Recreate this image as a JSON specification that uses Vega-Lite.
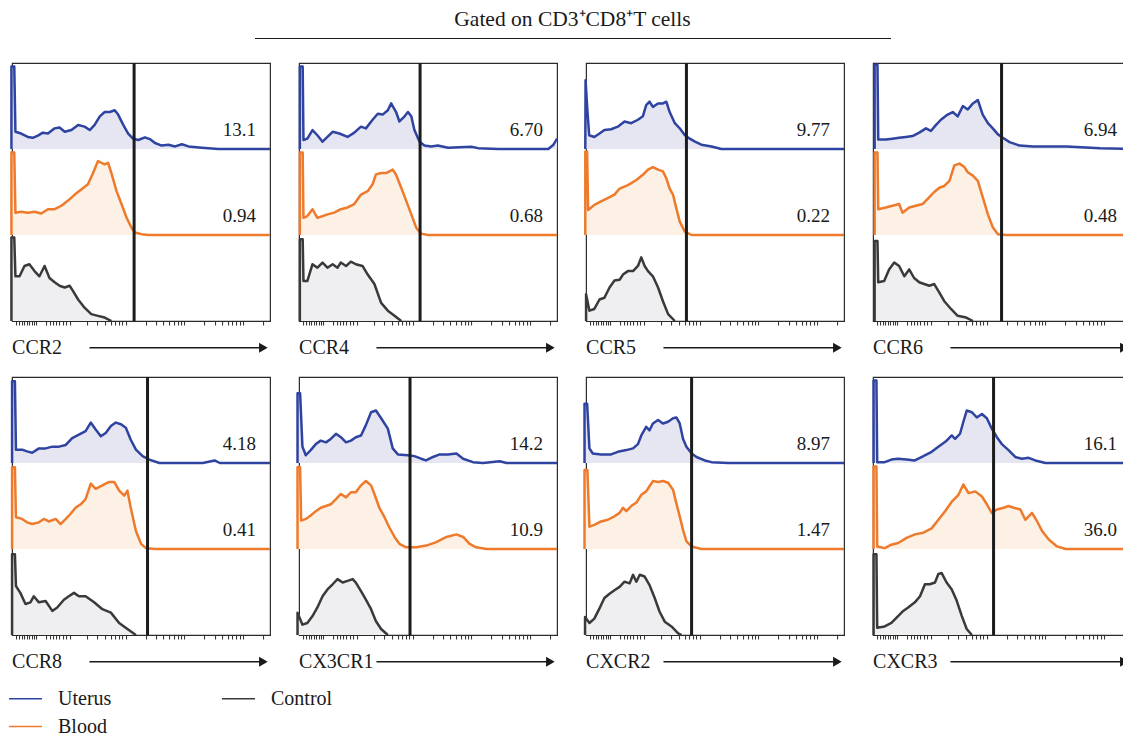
{
  "$schema": "https://vega.github.io/schema/vega-lite/v6.json",
  "padding": {"left": 8, "top": 8, "right": 0, "bottom": 0},
  "background": "white",
  "vconcat": [
    {
      "width": 636,
      "height": 30,
      "view": {"stroke": null},
      "data": {"values": [{"t": "Gated on CD3⁺CD8⁺T cells"}]},
      "mark": {"type": "text", "font": "Liberation Serif", "fontSize": 21.5, "color": "#1a1a1a", "baseline": "middle"},
      "encoding": {
        "text": {"field": "t"},
        "x": {"datum": 0.5, "type": "quantitative", "scale": {"domain": [0, 1]}, "axis": {"orient": "bottom", "domain": true, "domainColor": "#1a1a1a", "domainWidth": 1.2, "ticks": false, "labels": false, "grid": false, "title": null}},
        "y": {"datum": 0.6, "type": "quantitative", "scale": {"domain": [0, 1]}, "axis": null}
      }
    },
    {
      "data": {"values": [
        {"p":"CCR2","gate":47.3,"ut":"13.1","bl":"0.94"},
        {"p":"CCR4","gate":46.9,"ut":"6.70","bl":"0.68"},
        {"p":"CCR5","gate":38.9,"ut":"9.77","bl":"0.22"},
        {"p":"CCR6","gate":49.8,"ut":"6.94","bl":"0.48"},
        {"p":"CCR8","gate":52.5,"ut":"4.18","bl":"0.41"},
        {"p":"CX3CR1","gate":43.0,"ut":"14.2","bl":"10.9"},
        {"p":"CXCR2","gate":40.9,"ut":"8.97","bl":"1.47"},
        {"p":"CXCR3","gate":46.7,"ut":"16.1","bl":"36.0"},

        {"p":"CCR2","s":"Uterus","x":-0.25,"y":0},{"p":"CCR2","s":"Uterus","x":-0.25,"y":0.96},{"p":"CCR2","s":"Uterus","x":0.85,"y":0.96},{"p":"CCR2","s":"Uterus","x":1.3,"y":0.2},{"p":"CCR2","s":"Uterus","x":3.5,"y":0.18},{"p":"CCR2","s":"Uterus","x":6.1,"y":0.14},{"p":"CCR2","s":"Uterus","x":8,"y":0.13},{"p":"CCR2","s":"Uterus","x":10,"y":0.155},{"p":"CCR2","s":"Uterus","x":11.9,"y":0.19},{"p":"CCR2","s":"Uterus","x":13.9,"y":0.18},{"p":"CCR2","s":"Uterus","x":16.5,"y":0.24},{"p":"CCR2","s":"Uterus","x":18.4,"y":0.25},{"p":"CCR2","s":"Uterus","x":20.4,"y":0.2},{"p":"CCR2","s":"Uterus","x":23,"y":0.22},{"p":"CCR2","s":"Uterus","x":25.6,"y":0.28},{"p":"CCR2","s":"Uterus","x":28.1,"y":0.26},{"p":"CCR2","s":"Uterus","x":30.1,"y":0.22},{"p":"CCR2","s":"Uterus","x":32,"y":0.28},{"p":"CCR2","s":"Uterus","x":34,"y":0.38},{"p":"CCR2","s":"Uterus","x":35.9,"y":0.43},{"p":"CCR2","s":"Uterus","x":37.9,"y":0.43},{"p":"CCR2","s":"Uterus","x":39.8,"y":0.45},{"p":"CCR2","s":"Uterus","x":41.1,"y":0.4},{"p":"CCR2","s":"Uterus","x":43.1,"y":0.28},{"p":"CCR2","s":"Uterus","x":45,"y":0.18},{"p":"CCR2","s":"Uterus","x":46.9,"y":0.12},{"p":"CCR2","s":"Uterus","x":48.9,"y":0.105},{"p":"CCR2","s":"Uterus","x":51.5,"y":0.135},{"p":"CCR2","s":"Uterus","x":53.4,"y":0.115},{"p":"CCR2","s":"Uterus","x":55.4,"y":0.07},{"p":"CCR2","s":"Uterus","x":58,"y":0.04},{"p":"CCR2","s":"Uterus","x":60.6,"y":0.05},{"p":"CCR2","s":"Uterus","x":63.2,"y":0.03},{"p":"CCR2","s":"Uterus","x":65.8,"y":0.055},{"p":"CCR2","s":"Uterus","x":68.4,"y":0.03},{"p":"CCR2","s":"Uterus","x":73.5,"y":0.015},{"p":"CCR2","s":"Uterus","x":80,"y":0},{"p":"CCR2","s":"Uterus","x":100,"y":0},

        {"p":"CCR2","s":"Blood","x":-0.25,"y":0},{"p":"CCR2","s":"Blood","x":-0.25,"y":0.96},{"p":"CCR2","s":"Blood","x":0.85,"y":0.96},{"p":"CCR2","s":"Blood","x":1.3,"y":0.26},{"p":"CCR2","s":"Blood","x":3.5,"y":0.27},{"p":"CCR2","s":"Blood","x":6.1,"y":0.26},{"p":"CCR2","s":"Blood","x":8.7,"y":0.27},{"p":"CCR2","s":"Blood","x":11.3,"y":0.25},{"p":"CCR2","s":"Blood","x":13.9,"y":0.3},{"p":"CCR2","s":"Blood","x":16.5,"y":0.3},{"p":"CCR2","s":"Blood","x":19.1,"y":0.34},{"p":"CCR2","s":"Blood","x":21.7,"y":0.4},{"p":"CCR2","s":"Blood","x":24.3,"y":0.47},{"p":"CCR2","s":"Blood","x":26.8,"y":0.53},{"p":"CCR2","s":"Blood","x":29.4,"y":0.59},{"p":"CCR2","s":"Blood","x":31.4,"y":0.72},{"p":"CCR2","s":"Blood","x":33.3,"y":0.86},{"p":"CCR2","s":"Blood","x":34.6,"y":0.84},{"p":"CCR2","s":"Blood","x":35.9,"y":0.82},{"p":"CCR2","s":"Blood","x":37.2,"y":0.84},{"p":"CCR2","s":"Blood","x":38.5,"y":0.72},{"p":"CCR2","s":"Blood","x":40.5,"y":0.51},{"p":"CCR2","s":"Blood","x":42.4,"y":0.36},{"p":"CCR2","s":"Blood","x":44.4,"y":0.2},{"p":"CCR2","s":"Blood","x":46.3,"y":0.085},{"p":"CCR2","s":"Blood","x":47.6,"y":0.03},{"p":"CCR2","s":"Blood","x":50.2,"y":0.01},{"p":"CCR2","s":"Blood","x":52.8,"y":0},{"p":"CCR2","s":"Blood","x":100,"y":0},

        {"p":"CCR2","s":"Control","x":-0.25,"y":0},{"p":"CCR2","s":"Control","x":-0.25,"y":0.97},{"p":"CCR2","s":"Control","x":0.85,"y":0.97},{"p":"CCR2","s":"Control","x":1.3,"y":0.52},{"p":"CCR2","s":"Control","x":2.9,"y":0.52},{"p":"CCR2","s":"Control","x":4.8,"y":0.64},{"p":"CCR2","s":"Control","x":6.7,"y":0.66},{"p":"CCR2","s":"Control","x":8.7,"y":0.58},{"p":"CCR2","s":"Control","x":10.6,"y":0.52},{"p":"CCR2","s":"Control","x":12.6,"y":0.64},{"p":"CCR2","s":"Control","x":14.5,"y":0.5},{"p":"CCR2","s":"Control","x":16.5,"y":0.45},{"p":"CCR2","s":"Control","x":18.4,"y":0.41},{"p":"CCR2","s":"Control","x":20.4,"y":0.39},{"p":"CCR2","s":"Control","x":22.3,"y":0.41},{"p":"CCR2","s":"Control","x":23.6,"y":0.35},{"p":"CCR2","s":"Control","x":25.6,"y":0.25},{"p":"CCR2","s":"Control","x":28.1,"y":0.155},{"p":"CCR2","s":"Control","x":30.7,"y":0.08},{"p":"CCR2","s":"Control","x":33.3,"y":0.06},{"p":"CCR2","s":"Control","x":35.9,"y":0.04},{"p":"CCR2","s":"Control","x":38.5,"y":0},

        {"p":"CCR4","s":"Uterus","x":0.3,"y":0},{"p":"CCR4","s":"Uterus","x":0.3,"y":0.96},{"p":"CCR4","s":"Uterus","x":1.4,"y":0.96},{"p":"CCR4","s":"Uterus","x":1.7,"y":0.105},{"p":"CCR4","s":"Uterus","x":3.2,"y":0.12},{"p":"CCR4","s":"Uterus","x":5.2,"y":0.22},{"p":"CCR4","s":"Uterus","x":7.1,"y":0.16},{"p":"CCR4","s":"Uterus","x":9.1,"y":0.085},{"p":"CCR4","s":"Uterus","x":11,"y":0.14},{"p":"CCR4","s":"Uterus","x":13,"y":0.2},{"p":"CCR4","s":"Uterus","x":15.6,"y":0.18},{"p":"CCR4","s":"Uterus","x":18.8,"y":0.14},{"p":"CCR4","s":"Uterus","x":21.4,"y":0.19},{"p":"CCR4","s":"Uterus","x":24,"y":0.26},{"p":"CCR4","s":"Uterus","x":25.9,"y":0.24},{"p":"CCR4","s":"Uterus","x":28.5,"y":0.34},{"p":"CCR4","s":"Uterus","x":30.5,"y":0.41},{"p":"CCR4","s":"Uterus","x":32.4,"y":0.4},{"p":"CCR4","s":"Uterus","x":34.4,"y":0.45},{"p":"CCR4","s":"Uterus","x":35.7,"y":0.53},{"p":"CCR4","s":"Uterus","x":37.6,"y":0.43},{"p":"CCR4","s":"Uterus","x":38.9,"y":0.32},{"p":"CCR4","s":"Uterus","x":40.9,"y":0.38},{"p":"CCR4","s":"Uterus","x":42.2,"y":0.43},{"p":"CCR4","s":"Uterus","x":43.5,"y":0.38},{"p":"CCR4","s":"Uterus","x":44.7,"y":0.22},{"p":"CCR4","s":"Uterus","x":46.7,"y":0.085},{"p":"CCR4","s":"Uterus","x":48.6,"y":0.04},{"p":"CCR4","s":"Uterus","x":51.2,"y":0.03},{"p":"CCR4","s":"Uterus","x":53.8,"y":0.04},{"p":"CCR4","s":"Uterus","x":57.7,"y":0.015},{"p":"CCR4","s":"Uterus","x":66.8,"y":0.025},{"p":"CCR4","s":"Uterus","x":69.4,"y":0.01},{"p":"CCR4","s":"Uterus","x":77.2,"y":0},{"p":"CCR4","s":"Uterus","x":96.6,"y":0},{"p":"CCR4","s":"Uterus","x":98.6,"y":0.05},{"p":"CCR4","s":"Uterus","x":100,"y":0.12},

        {"p":"CCR4","s":"Blood","x":0.3,"y":0},{"p":"CCR4","s":"Blood","x":0.3,"y":0.96},{"p":"CCR4","s":"Blood","x":1.4,"y":0.96},{"p":"CCR4","s":"Blood","x":1.7,"y":0.2},{"p":"CCR4","s":"Blood","x":3.2,"y":0.22},{"p":"CCR4","s":"Blood","x":5.2,"y":0.3},{"p":"CCR4","s":"Blood","x":7.1,"y":0.2},{"p":"CCR4","s":"Blood","x":9.1,"y":0.22},{"p":"CCR4","s":"Blood","x":11,"y":0.24},{"p":"CCR4","s":"Blood","x":13.6,"y":0.26},{"p":"CCR4","s":"Blood","x":16.2,"y":0.3},{"p":"CCR4","s":"Blood","x":18.8,"y":0.32},{"p":"CCR4","s":"Blood","x":21.4,"y":0.36},{"p":"CCR4","s":"Blood","x":24,"y":0.47},{"p":"CCR4","s":"Blood","x":26.6,"y":0.51},{"p":"CCR4","s":"Blood","x":28.5,"y":0.59},{"p":"CCR4","s":"Blood","x":29.8,"y":0.705},{"p":"CCR4","s":"Blood","x":31.8,"y":0.72},{"p":"CCR4","s":"Blood","x":33.7,"y":0.72},{"p":"CCR4","s":"Blood","x":35,"y":0.74},{"p":"CCR4","s":"Blood","x":36.3,"y":0.76},{"p":"CCR4","s":"Blood","x":37.6,"y":0.7},{"p":"CCR4","s":"Blood","x":39.6,"y":0.55},{"p":"CCR4","s":"Blood","x":41.5,"y":0.4},{"p":"CCR4","s":"Blood","x":43.5,"y":0.24},{"p":"CCR4","s":"Blood","x":45.4,"y":0.085},{"p":"CCR4","s":"Blood","x":47.3,"y":0.016},{"p":"CCR4","s":"Blood","x":49.9,"y":0},{"p":"CCR4","s":"Blood","x":100,"y":0},

        {"p":"CCR4","s":"Control","x":0.3,"y":0},{"p":"CCR4","s":"Control","x":0.3,"y":0.95},{"p":"CCR4","s":"Control","x":1.4,"y":0.95},{"p":"CCR4","s":"Control","x":1.7,"y":0.465},{"p":"CCR4","s":"Control","x":3.2,"y":0.465},{"p":"CCR4","s":"Control","x":5.2,"y":0.66},{"p":"CCR4","s":"Control","x":7.1,"y":0.62},{"p":"CCR4","s":"Control","x":9.1,"y":0.68},{"p":"CCR4","s":"Control","x":11,"y":0.62},{"p":"CCR4","s":"Control","x":13,"y":0.66},{"p":"CCR4","s":"Control","x":14.9,"y":0.62},{"p":"CCR4","s":"Control","x":16.2,"y":0.68},{"p":"CCR4","s":"Control","x":18.2,"y":0.64},{"p":"CCR4","s":"Control","x":20.1,"y":0.69},{"p":"CCR4","s":"Control","x":22,"y":0.66},{"p":"CCR4","s":"Control","x":24.6,"y":0.64},{"p":"CCR4","s":"Control","x":26.6,"y":0.54},{"p":"CCR4","s":"Control","x":29.2,"y":0.43},{"p":"CCR4","s":"Control","x":31.8,"y":0.21},{"p":"CCR4","s":"Control","x":34.4,"y":0.12},{"p":"CCR4","s":"Control","x":37,"y":0.06},{"p":"CCR4","s":"Control","x":39.6,"y":0},

        {"p":"CCR5","s":"Uterus","x":-0.3,"y":0},{"p":"CCR5","s":"Uterus","x":-0.2,"y":0.8},{"p":"CCR5","s":"Uterus","x":0.4,"y":0.5},{"p":"CCR5","s":"Uterus","x":1.2,"y":0.16},{"p":"CCR5","s":"Uterus","x":3.2,"y":0.14},{"p":"CCR5","s":"Uterus","x":5.2,"y":0.18},{"p":"CCR5","s":"Uterus","x":7.1,"y":0.22},{"p":"CCR5","s":"Uterus","x":9.7,"y":0.23},{"p":"CCR5","s":"Uterus","x":12.3,"y":0.26},{"p":"CCR5","s":"Uterus","x":14.9,"y":0.32},{"p":"CCR5","s":"Uterus","x":17.5,"y":0.3},{"p":"CCR5","s":"Uterus","x":20.1,"y":0.34},{"p":"CCR5","s":"Uterus","x":22,"y":0.38},{"p":"CCR5","s":"Uterus","x":23.3,"y":0.51},{"p":"CCR5","s":"Uterus","x":24.6,"y":0.55},{"p":"CCR5","s":"Uterus","x":25.9,"y":0.49},{"p":"CCR5","s":"Uterus","x":27.9,"y":0.53},{"p":"CCR5","s":"Uterus","x":29.8,"y":0.53},{"p":"CCR5","s":"Uterus","x":31.1,"y":0.55},{"p":"CCR5","s":"Uterus","x":32.4,"y":0.43},{"p":"CCR5","s":"Uterus","x":34.4,"y":0.3},{"p":"CCR5","s":"Uterus","x":36.3,"y":0.24},{"p":"CCR5","s":"Uterus","x":38.3,"y":0.16},{"p":"CCR5","s":"Uterus","x":40.2,"y":0.12},{"p":"CCR5","s":"Uterus","x":42.2,"y":0.085},{"p":"CCR5","s":"Uterus","x":44.7,"y":0.05},{"p":"CCR5","s":"Uterus","x":48.6,"y":0.03},{"p":"CCR5","s":"Uterus","x":52.5,"y":0},{"p":"CCR5","s":"Uterus","x":100,"y":0},

        {"p":"CCR5","s":"Blood","x":-0.3,"y":0},{"p":"CCR5","s":"Blood","x":-0.3,"y":0.97},{"p":"CCR5","s":"Blood","x":0.4,"y":0.97},{"p":"CCR5","s":"Blood","x":0.8,"y":0.29},{"p":"CCR5","s":"Blood","x":3.2,"y":0.35},{"p":"CCR5","s":"Blood","x":5.8,"y":0.39},{"p":"CCR5","s":"Blood","x":8.4,"y":0.43},{"p":"CCR5","s":"Blood","x":11,"y":0.47},{"p":"CCR5","s":"Blood","x":13,"y":0.54},{"p":"CCR5","s":"Blood","x":16.2,"y":0.58},{"p":"CCR5","s":"Blood","x":19.5,"y":0.64},{"p":"CCR5","s":"Blood","x":22,"y":0.7},{"p":"CCR5","s":"Blood","x":24,"y":0.76},{"p":"CCR5","s":"Blood","x":25.9,"y":0.79},{"p":"CCR5","s":"Blood","x":27.9,"y":0.76},{"p":"CCR5","s":"Blood","x":29.8,"y":0.74},{"p":"CCR5","s":"Blood","x":31.1,"y":0.66},{"p":"CCR5","s":"Blood","x":32.4,"y":0.54},{"p":"CCR5","s":"Blood","x":33.7,"y":0.47},{"p":"CCR5","s":"Blood","x":35,"y":0.31},{"p":"CCR5","s":"Blood","x":36.3,"y":0.155},{"p":"CCR5","s":"Blood","x":38.3,"y":0.04},{"p":"CCR5","s":"Blood","x":40.9,"y":0},{"p":"CCR5","s":"Blood","x":100,"y":0},

        {"p":"CCR5","s":"Control","x":0,"y":0},{"p":"CCR5","s":"Control","x":0,"y":0.31},{"p":"CCR5","s":"Control","x":1.3,"y":0.12},{"p":"CCR5","s":"Control","x":3.2,"y":0.14},{"p":"CCR5","s":"Control","x":5.2,"y":0.25},{"p":"CCR5","s":"Control","x":7.1,"y":0.27},{"p":"CCR5","s":"Control","x":9.1,"y":0.39},{"p":"CCR5","s":"Control","x":11,"y":0.47},{"p":"CCR5","s":"Control","x":13,"y":0.48},{"p":"CCR5","s":"Control","x":14.3,"y":0.54},{"p":"CCR5","s":"Control","x":16.2,"y":0.58},{"p":"CCR5","s":"Control","x":18.2,"y":0.58},{"p":"CCR5","s":"Control","x":20.1,"y":0.64},{"p":"CCR5","s":"Control","x":21.4,"y":0.74},{"p":"CCR5","s":"Control","x":22.7,"y":0.64},{"p":"CCR5","s":"Control","x":24,"y":0.58},{"p":"CCR5","s":"Control","x":25.9,"y":0.52},{"p":"CCR5","s":"Control","x":27.9,"y":0.39},{"p":"CCR5","s":"Control","x":29.8,"y":0.23},{"p":"CCR5","s":"Control","x":31.8,"y":0.08},{"p":"CCR5","s":"Control","x":34.4,"y":0},

        {"p":"CCR6","s":"Uterus","x":0.6,"y":0},{"p":"CCR6","s":"Uterus","x":0.6,"y":0.98},{"p":"CCR6","s":"Uterus","x":1.7,"y":0.98},{"p":"CCR6","s":"Uterus","x":2.0,"y":0.11},{"p":"CCR6","s":"Uterus","x":4.9,"y":0.11},{"p":"CCR6","s":"Uterus","x":7.5,"y":0.12},{"p":"CCR6","s":"Uterus","x":10.1,"y":0.13},{"p":"CCR6","s":"Uterus","x":12.7,"y":0.14},{"p":"CCR6","s":"Uterus","x":15.3,"y":0.15},{"p":"CCR6","s":"Uterus","x":17.9,"y":0.19},{"p":"CCR6","s":"Uterus","x":20.5,"y":0.24},{"p":"CCR6","s":"Uterus","x":22.4,"y":0.21},{"p":"CCR6","s":"Uterus","x":24.4,"y":0.28},{"p":"CCR6","s":"Uterus","x":26.3,"y":0.34},{"p":"CCR6","s":"Uterus","x":28.9,"y":0.4},{"p":"CCR6","s":"Uterus","x":30.9,"y":0.43},{"p":"CCR6","s":"Uterus","x":32.8,"y":0.38},{"p":"CCR6","s":"Uterus","x":34.8,"y":0.5},{"p":"CCR6","s":"Uterus","x":36.7,"y":0.46},{"p":"CCR6","s":"Uterus","x":38.7,"y":0.53},{"p":"CCR6","s":"Uterus","x":40.6,"y":0.57},{"p":"CCR6","s":"Uterus","x":42.5,"y":0.4},{"p":"CCR6","s":"Uterus","x":44.5,"y":0.3},{"p":"CCR6","s":"Uterus","x":46.4,"y":0.24},{"p":"CCR6","s":"Uterus","x":48.4,"y":0.17},{"p":"CCR6","s":"Uterus","x":50.3,"y":0.13},{"p":"CCR6","s":"Uterus","x":52.9,"y":0.08},{"p":"CCR6","s":"Uterus","x":56.8,"y":0.04},{"p":"CCR6","s":"Uterus","x":62,"y":0.03},{"p":"CCR6","s":"Uterus","x":75,"y":0.03},{"p":"CCR6","s":"Uterus","x":88,"y":0.01},{"p":"CCR6","s":"Uterus","x":100,"y":0},

        {"p":"CCR6","s":"Blood","x":0.6,"y":0},{"p":"CCR6","s":"Blood","x":0.6,"y":0.96},{"p":"CCR6","s":"Blood","x":1.7,"y":0.96},{"p":"CCR6","s":"Blood","x":2.0,"y":0.3},{"p":"CCR6","s":"Blood","x":4.9,"y":0.32},{"p":"CCR6","s":"Blood","x":7.5,"y":0.34},{"p":"CCR6","s":"Blood","x":10.1,"y":0.36},{"p":"CCR6","s":"Blood","x":11.4,"y":0.26},{"p":"CCR6","s":"Blood","x":14,"y":0.32},{"p":"CCR6","s":"Blood","x":16.6,"y":0.34},{"p":"CCR6","s":"Blood","x":19.2,"y":0.36},{"p":"CCR6","s":"Blood","x":21.8,"y":0.44},{"p":"CCR6","s":"Blood","x":23.7,"y":0.5},{"p":"CCR6","s":"Blood","x":25.7,"y":0.55},{"p":"CCR6","s":"Blood","x":27.6,"y":0.57},{"p":"CCR6","s":"Blood","x":29.6,"y":0.63},{"p":"CCR6","s":"Blood","x":31.5,"y":0.81},{"p":"CCR6","s":"Blood","x":33.5,"y":0.83},{"p":"CCR6","s":"Blood","x":35.4,"y":0.79},{"p":"CCR6","s":"Blood","x":36.7,"y":0.73},{"p":"CCR6","s":"Blood","x":38.7,"y":0.69},{"p":"CCR6","s":"Blood","x":40.6,"y":0.63},{"p":"CCR6","s":"Blood","x":42.5,"y":0.44},{"p":"CCR6","s":"Blood","x":44.5,"y":0.24},{"p":"CCR6","s":"Blood","x":46.4,"y":0.09},{"p":"CCR6","s":"Blood","x":48.4,"y":0.01},{"p":"CCR6","s":"Blood","x":51.6,"y":0},{"p":"CCR6","s":"Blood","x":100,"y":0},

        {"p":"CCR6","s":"Control","x":0.6,"y":0},{"p":"CCR6","s":"Control","x":0.6,"y":0.93},{"p":"CCR6","s":"Control","x":1.7,"y":0.93},{"p":"CCR6","s":"Control","x":2.0,"y":0.45},{"p":"CCR6","s":"Control","x":4.3,"y":0.465},{"p":"CCR6","s":"Control","x":6.2,"y":0.6},{"p":"CCR6","s":"Control","x":8.2,"y":0.68},{"p":"CCR6","s":"Control","x":10.1,"y":0.64},{"p":"CCR6","s":"Control","x":12.1,"y":0.52},{"p":"CCR6","s":"Control","x":14,"y":0.6},{"p":"CCR6","s":"Control","x":15.9,"y":0.5},{"p":"CCR6","s":"Control","x":17.9,"y":0.45},{"p":"CCR6","s":"Control","x":19.8,"y":0.43},{"p":"CCR6","s":"Control","x":21.8,"y":0.41},{"p":"CCR6","s":"Control","x":23.7,"y":0.43},{"p":"CCR6","s":"Control","x":25.7,"y":0.33},{"p":"CCR6","s":"Control","x":27.6,"y":0.23},{"p":"CCR6","s":"Control","x":30.2,"y":0.14},{"p":"CCR6","s":"Control","x":32.8,"y":0.06},{"p":"CCR6","s":"Control","x":36.1,"y":0.04},{"p":"CCR6","s":"Control","x":38.7,"y":0},

        {"p":"CCR8","s":"Uterus","x":0,"y":0},{"p":"CCR8","s":"Uterus","x":0,"y":0.95},{"p":"CCR8","s":"Uterus","x":1.1,"y":0.95},{"p":"CCR8","s":"Uterus","x":1.5,"y":0.155},{"p":"CCR8","s":"Uterus","x":3.9,"y":0.155},{"p":"CCR8","s":"Uterus","x":5.8,"y":0.135},{"p":"CCR8","s":"Uterus","x":7.8,"y":0.12},{"p":"CCR8","s":"Uterus","x":10.4,"y":0.17},{"p":"CCR8","s":"Uterus","x":13,"y":0.17},{"p":"CCR8","s":"Uterus","x":15.6,"y":0.19},{"p":"CCR8","s":"Uterus","x":18.2,"y":0.19},{"p":"CCR8","s":"Uterus","x":20.8,"y":0.21},{"p":"CCR8","s":"Uterus","x":23.3,"y":0.29},{"p":"CCR8","s":"Uterus","x":25.9,"y":0.33},{"p":"CCR8","s":"Uterus","x":28.5,"y":0.37},{"p":"CCR8","s":"Uterus","x":30.5,"y":0.47},{"p":"CCR8","s":"Uterus","x":32.4,"y":0.39},{"p":"CCR8","s":"Uterus","x":34.4,"y":0.31},{"p":"CCR8","s":"Uterus","x":36.3,"y":0.35},{"p":"CCR8","s":"Uterus","x":38.3,"y":0.43},{"p":"CCR8","s":"Uterus","x":40.2,"y":0.47},{"p":"CCR8","s":"Uterus","x":42.2,"y":0.45},{"p":"CCR8","s":"Uterus","x":44.1,"y":0.41},{"p":"CCR8","s":"Uterus","x":46,"y":0.27},{"p":"CCR8","s":"Uterus","x":48,"y":0.155},{"p":"CCR8","s":"Uterus","x":50.6,"y":0.08},{"p":"CCR8","s":"Uterus","x":53.2,"y":0.04},{"p":"CCR8","s":"Uterus","x":57.1,"y":0},{"p":"CCR8","s":"Uterus","x":73.9,"y":0},{"p":"CCR8","s":"Uterus","x":78.5,"y":0.03},{"p":"CCR8","s":"Uterus","x":80.5,"y":0},{"p":"CCR8","s":"Uterus","x":100,"y":0},

        {"p":"CCR8","s":"Blood","x":0,"y":0},{"p":"CCR8","s":"Blood","x":0,"y":0.95},{"p":"CCR8","s":"Blood","x":1.1,"y":0.95},{"p":"CCR8","s":"Blood","x":1.5,"y":0.37},{"p":"CCR8","s":"Blood","x":3.9,"y":0.35},{"p":"CCR8","s":"Blood","x":5.8,"y":0.31},{"p":"CCR8","s":"Blood","x":7.8,"y":0.29},{"p":"CCR8","s":"Blood","x":10.4,"y":0.31},{"p":"CCR8","s":"Blood","x":12.3,"y":0.35},{"p":"CCR8","s":"Blood","x":14.3,"y":0.32},{"p":"CCR8","s":"Blood","x":16.9,"y":0.35},{"p":"CCR8","s":"Blood","x":18.8,"y":0.29},{"p":"CCR8","s":"Blood","x":20.8,"y":0.35},{"p":"CCR8","s":"Blood","x":22.7,"y":0.41},{"p":"CCR8","s":"Blood","x":24.6,"y":0.48},{"p":"CCR8","s":"Blood","x":26.6,"y":0.52},{"p":"CCR8","s":"Blood","x":28.5,"y":0.58},{"p":"CCR8","s":"Blood","x":30.5,"y":0.76},{"p":"CCR8","s":"Blood","x":32.4,"y":0.7},{"p":"CCR8","s":"Blood","x":35,"y":0.74},{"p":"CCR8","s":"Blood","x":37.6,"y":0.78},{"p":"CCR8","s":"Blood","x":39.6,"y":0.78},{"p":"CCR8","s":"Blood","x":41.5,"y":0.68},{"p":"CCR8","s":"Blood","x":43.5,"y":0.62},{"p":"CCR8","s":"Blood","x":44.7,"y":0.68},{"p":"CCR8","s":"Blood","x":46,"y":0.48},{"p":"CCR8","s":"Blood","x":48,"y":0.21},{"p":"CCR8","s":"Blood","x":50,"y":0.06},{"p":"CCR8","s":"Blood","x":51.9,"y":0.01},{"p":"CCR8","s":"Blood","x":55.8,"y":0},{"p":"CCR8","s":"Blood","x":100,"y":0},

        {"p":"CCR8","s":"Control","x":0,"y":0},{"p":"CCR8","s":"Control","x":0,"y":0.94},{"p":"CCR8","s":"Control","x":1.1,"y":0.94},{"p":"CCR8","s":"Control","x":1.5,"y":0.57},{"p":"CCR8","s":"Control","x":3.2,"y":0.49},{"p":"CCR8","s":"Control","x":5.2,"y":0.36},{"p":"CCR8","s":"Control","x":7.1,"y":0.38},{"p":"CCR8","s":"Control","x":8.4,"y":0.45},{"p":"CCR8","s":"Control","x":10.4,"y":0.38},{"p":"CCR8","s":"Control","x":13,"y":0.395},{"p":"CCR8","s":"Control","x":15.6,"y":0.28},{"p":"CCR8","s":"Control","x":17.5,"y":0.32},{"p":"CCR8","s":"Control","x":20.1,"y":0.41},{"p":"CCR8","s":"Control","x":22,"y":0.45},{"p":"CCR8","s":"Control","x":24,"y":0.49},{"p":"CCR8","s":"Control","x":25.9,"y":0.45},{"p":"CCR8","s":"Control","x":28.5,"y":0.45},{"p":"CCR8","s":"Control","x":31.8,"y":0.38},{"p":"CCR8","s":"Control","x":35,"y":0.3},{"p":"CCR8","s":"Control","x":38.3,"y":0.26},{"p":"CCR8","s":"Control","x":41.5,"y":0.14},{"p":"CCR8","s":"Control","x":44.7,"y":0.07},{"p":"CCR8","s":"Control","x":48,"y":0},

        {"p":"CX3CR1","s":"Uterus","x":-0.6,"y":0},{"p":"CX3CR1","s":"Uterus","x":-0.6,"y":0.81},{"p":"CX3CR1","s":"Uterus","x":0.4,"y":0.81},{"p":"CX3CR1","s":"Uterus","x":1.3,"y":0.19},{"p":"CX3CR1","s":"Uterus","x":2.6,"y":0.09},{"p":"CX3CR1","s":"Uterus","x":4.5,"y":0.15},{"p":"CX3CR1","s":"Uterus","x":6.5,"y":0.22},{"p":"CX3CR1","s":"Uterus","x":8.4,"y":0.26},{"p":"CX3CR1","s":"Uterus","x":10.4,"y":0.24},{"p":"CX3CR1","s":"Uterus","x":12.3,"y":0.28},{"p":"CX3CR1","s":"Uterus","x":14.3,"y":0.34},{"p":"CX3CR1","s":"Uterus","x":16.2,"y":0.3},{"p":"CX3CR1","s":"Uterus","x":18.2,"y":0.24},{"p":"CX3CR1","s":"Uterus","x":20.1,"y":0.26},{"p":"CX3CR1","s":"Uterus","x":22,"y":0.3},{"p":"CX3CR1","s":"Uterus","x":24,"y":0.32},{"p":"CX3CR1","s":"Uterus","x":25.9,"y":0.44},{"p":"CX3CR1","s":"Uterus","x":27.9,"y":0.59},{"p":"CX3CR1","s":"Uterus","x":29.8,"y":0.61},{"p":"CX3CR1","s":"Uterus","x":31.8,"y":0.52},{"p":"CX3CR1","s":"Uterus","x":34.4,"y":0.4},{"p":"CX3CR1","s":"Uterus","x":36.3,"y":0.17},{"p":"CX3CR1","s":"Uterus","x":38.3,"y":0.1},{"p":"CX3CR1","s":"Uterus","x":42.2,"y":0.09},{"p":"CX3CR1","s":"Uterus","x":44.7,"y":0.08},{"p":"CX3CR1","s":"Uterus","x":47.3,"y":0.05},{"p":"CX3CR1","s":"Uterus","x":49.2,"y":0.03},{"p":"CX3CR1","s":"Uterus","x":51.9,"y":0.07},{"p":"CX3CR1","s":"Uterus","x":54.5,"y":0.1},{"p":"CX3CR1","s":"Uterus","x":57.7,"y":0.1},{"p":"CX3CR1","s":"Uterus","x":61,"y":0.11},{"p":"CX3CR1","s":"Uterus","x":63.6,"y":0.05},{"p":"CX3CR1","s":"Uterus","x":67.4,"y":0.01},{"p":"CX3CR1","s":"Uterus","x":71.3,"y":0},{"p":"CX3CR1","s":"Uterus","x":77.8,"y":0.02},{"p":"CX3CR1","s":"Uterus","x":80.4,"y":0},{"p":"CX3CR1","s":"Uterus","x":100,"y":0},

        {"p":"CX3CR1","s":"Blood","x":-0.6,"y":0},{"p":"CX3CR1","s":"Blood","x":-0.6,"y":0.95},{"p":"CX3CR1","s":"Blood","x":0.4,"y":0.95},{"p":"CX3CR1","s":"Blood","x":0.8,"y":0.33},{"p":"CX3CR1","s":"Blood","x":2.6,"y":0.35},{"p":"CX3CR1","s":"Blood","x":4.5,"y":0.39},{"p":"CX3CR1","s":"Blood","x":6.5,"y":0.44},{"p":"CX3CR1","s":"Blood","x":8.4,"y":0.48},{"p":"CX3CR1","s":"Blood","x":10.4,"y":0.5},{"p":"CX3CR1","s":"Blood","x":12.3,"y":0.52},{"p":"CX3CR1","s":"Blood","x":14.3,"y":0.58},{"p":"CX3CR1","s":"Blood","x":16.2,"y":0.64},{"p":"CX3CR1","s":"Blood","x":18.2,"y":0.6},{"p":"CX3CR1","s":"Blood","x":20.1,"y":0.66},{"p":"CX3CR1","s":"Blood","x":22,"y":0.66},{"p":"CX3CR1","s":"Blood","x":24,"y":0.74},{"p":"CX3CR1","s":"Blood","x":25.9,"y":0.79},{"p":"CX3CR1","s":"Blood","x":27.9,"y":0.74},{"p":"CX3CR1","s":"Blood","x":29.2,"y":0.64},{"p":"CX3CR1","s":"Blood","x":31.1,"y":0.48},{"p":"CX3CR1","s":"Blood","x":33.1,"y":0.37},{"p":"CX3CR1","s":"Blood","x":35,"y":0.25},{"p":"CX3CR1","s":"Blood","x":37,"y":0.14},{"p":"CX3CR1","s":"Blood","x":38.9,"y":0.06},{"p":"CX3CR1","s":"Blood","x":41.5,"y":0.02},{"p":"CX3CR1","s":"Blood","x":45.4,"y":0.02},{"p":"CX3CR1","s":"Blood","x":49.3,"y":0.04},{"p":"CX3CR1","s":"Blood","x":53.2,"y":0.08},{"p":"CX3CR1","s":"Blood","x":57.1,"y":0.14},{"p":"CX3CR1","s":"Blood","x":61,"y":0.17},{"p":"CX3CR1","s":"Blood","x":63.6,"y":0.14},{"p":"CX3CR1","s":"Blood","x":66.1,"y":0.06},{"p":"CX3CR1","s":"Blood","x":68.7,"y":0.02},{"p":"CX3CR1","s":"Blood","x":72.6,"y":0},{"p":"CX3CR1","s":"Blood","x":100,"y":0},

        {"p":"CX3CR1","s":"Control","x":-0.6,"y":0},{"p":"CX3CR1","s":"Control","x":-0.6,"y":0.26},{"p":"CX3CR1","s":"Control","x":1.3,"y":0.12},{"p":"CX3CR1","s":"Control","x":3.2,"y":0.14},{"p":"CX3CR1","s":"Control","x":5.2,"y":0.22},{"p":"CX3CR1","s":"Control","x":7.1,"y":0.32},{"p":"CX3CR1","s":"Control","x":9.1,"y":0.45},{"p":"CX3CR1","s":"Control","x":11,"y":0.53},{"p":"CX3CR1","s":"Control","x":13,"y":0.59},{"p":"CX3CR1","s":"Control","x":14.9,"y":0.65},{"p":"CX3CR1","s":"Control","x":16.9,"y":0.61},{"p":"CX3CR1","s":"Control","x":18.8,"y":0.63},{"p":"CX3CR1","s":"Control","x":20.8,"y":0.65},{"p":"CX3CR1","s":"Control","x":22,"y":0.61},{"p":"CX3CR1","s":"Control","x":24,"y":0.51},{"p":"CX3CR1","s":"Control","x":25.9,"y":0.41},{"p":"CX3CR1","s":"Control","x":27.9,"y":0.3},{"p":"CX3CR1","s":"Control","x":29.8,"y":0.16},{"p":"CX3CR1","s":"Control","x":31.8,"y":0.07},{"p":"CX3CR1","s":"Control","x":34.4,"y":0},

        {"p":"CXCR2","s":"Uterus","x":-0.6,"y":0},{"p":"CXCR2","s":"Uterus","x":-0.6,"y":0.69},{"p":"CXCR2","s":"Uterus","x":0.4,"y":0.69},{"p":"CXCR2","s":"Uterus","x":1.3,"y":0.17},{"p":"CXCR2","s":"Uterus","x":2.6,"y":0.11},{"p":"CXCR2","s":"Uterus","x":5.8,"y":0.1},{"p":"CXCR2","s":"Uterus","x":9.7,"y":0.1},{"p":"CXCR2","s":"Uterus","x":12.3,"y":0.13},{"p":"CXCR2","s":"Uterus","x":15.6,"y":0.15},{"p":"CXCR2","s":"Uterus","x":18.2,"y":0.17},{"p":"CXCR2","s":"Uterus","x":20.1,"y":0.22},{"p":"CXCR2","s":"Uterus","x":21.4,"y":0.32},{"p":"CXCR2","s":"Uterus","x":23.3,"y":0.42},{"p":"CXCR2","s":"Uterus","x":24.6,"y":0.38},{"p":"CXCR2","s":"Uterus","x":25.9,"y":0.46},{"p":"CXCR2","s":"Uterus","x":27.9,"y":0.5},{"p":"CXCR2","s":"Uterus","x":29.8,"y":0.46},{"p":"CXCR2","s":"Uterus","x":31.8,"y":0.48},{"p":"CXCR2","s":"Uterus","x":33.7,"y":0.52},{"p":"CXCR2","s":"Uterus","x":35,"y":0.53},{"p":"CXCR2","s":"Uterus","x":36.3,"y":0.46},{"p":"CXCR2","s":"Uterus","x":37.6,"y":0.28},{"p":"CXCR2","s":"Uterus","x":38.9,"y":0.19},{"p":"CXCR2","s":"Uterus","x":40.9,"y":0.11},{"p":"CXCR2","s":"Uterus","x":42.8,"y":0.07},{"p":"CXCR2","s":"Uterus","x":46,"y":0.03},{"p":"CXCR2","s":"Uterus","x":48.6,"y":0.01},{"p":"CXCR2","s":"Uterus","x":55.1,"y":0},{"p":"CXCR2","s":"Uterus","x":100,"y":0},

        {"p":"CXCR2","s":"Blood","x":-0.6,"y":0},{"p":"CXCR2","s":"Blood","x":-0.6,"y":0.92},{"p":"CXCR2","s":"Blood","x":0.5,"y":0.92},{"p":"CXCR2","s":"Blood","x":1.3,"y":0.26},{"p":"CXCR2","s":"Blood","x":3.2,"y":0.28},{"p":"CXCR2","s":"Blood","x":5.8,"y":0.32},{"p":"CXCR2","s":"Blood","x":8.4,"y":0.34},{"p":"CXCR2","s":"Blood","x":11,"y":0.38},{"p":"CXCR2","s":"Blood","x":13,"y":0.42},{"p":"CXCR2","s":"Blood","x":14.3,"y":0.48},{"p":"CXCR2","s":"Blood","x":15.6,"y":0.44},{"p":"CXCR2","s":"Blood","x":17.5,"y":0.5},{"p":"CXCR2","s":"Blood","x":19.5,"y":0.54},{"p":"CXCR2","s":"Blood","x":21.4,"y":0.63},{"p":"CXCR2","s":"Blood","x":23.3,"y":0.67},{"p":"CXCR2","s":"Blood","x":24.6,"y":0.73},{"p":"CXCR2","s":"Blood","x":25.9,"y":0.79},{"p":"CXCR2","s":"Blood","x":27.9,"y":0.78},{"p":"CXCR2","s":"Blood","x":29.8,"y":0.79},{"p":"CXCR2","s":"Blood","x":31.8,"y":0.77},{"p":"CXCR2","s":"Blood","x":33.7,"y":0.69},{"p":"CXCR2","s":"Blood","x":35,"y":0.53},{"p":"CXCR2","s":"Blood","x":36.3,"y":0.38},{"p":"CXCR2","s":"Blood","x":37.6,"y":0.22},{"p":"CXCR2","s":"Blood","x":38.9,"y":0.09},{"p":"CXCR2","s":"Blood","x":40.9,"y":0.03},{"p":"CXCR2","s":"Blood","x":44.7,"y":0},{"p":"CXCR2","s":"Blood","x":100,"y":0},

        {"p":"CXCR2","s":"Control","x":-0.4,"y":0},{"p":"CXCR2","s":"Control","x":-0.4,"y":0.21},{"p":"CXCR2","s":"Control","x":1.3,"y":0.14},{"p":"CXCR2","s":"Control","x":3.2,"y":0.19},{"p":"CXCR2","s":"Control","x":5.2,"y":0.31},{"p":"CXCR2","s":"Control","x":7.1,"y":0.43},{"p":"CXCR2","s":"Control","x":9.1,"y":0.48},{"p":"CXCR2","s":"Control","x":11,"y":0.52},{"p":"CXCR2","s":"Control","x":13,"y":0.56},{"p":"CXCR2","s":"Control","x":14.9,"y":0.62},{"p":"CXCR2","s":"Control","x":16.9,"y":0.6},{"p":"CXCR2","s":"Control","x":18.2,"y":0.7},{"p":"CXCR2","s":"Control","x":19.5,"y":0.62},{"p":"CXCR2","s":"Control","x":20.8,"y":0.7},{"p":"CXCR2","s":"Control","x":22.7,"y":0.68},{"p":"CXCR2","s":"Control","x":24.6,"y":0.58},{"p":"CXCR2","s":"Control","x":26.6,"y":0.43},{"p":"CXCR2","s":"Control","x":28.5,"y":0.27},{"p":"CXCR2","s":"Control","x":30.5,"y":0.155},{"p":"CXCR2","s":"Control","x":33.1,"y":0.1},{"p":"CXCR2","s":"Control","x":35.7,"y":0.02},{"p":"CXCR2","s":"Control","x":37,"y":0},

        {"p":"CXCR3","s":"Uterus","x":0.2,"y":0},{"p":"CXCR3","s":"Uterus","x":0.2,"y":0.96},{"p":"CXCR3","s":"Uterus","x":1.3,"y":0.96},{"p":"CXCR3","s":"Uterus","x":1.6,"y":0.01},{"p":"CXCR3","s":"Uterus","x":4.5,"y":0.01},{"p":"CXCR3","s":"Uterus","x":7.1,"y":0.04},{"p":"CXCR3","s":"Uterus","x":9.7,"y":0.05},{"p":"CXCR3","s":"Uterus","x":13,"y":0.04},{"p":"CXCR3","s":"Uterus","x":16.2,"y":0.03},{"p":"CXCR3","s":"Uterus","x":19.5,"y":0.08},{"p":"CXCR3","s":"Uterus","x":22.7,"y":0.13},{"p":"CXCR3","s":"Uterus","x":25.3,"y":0.19},{"p":"CXCR3","s":"Uterus","x":28.5,"y":0.26},{"p":"CXCR3","s":"Uterus","x":30.5,"y":0.32},{"p":"CXCR3","s":"Uterus","x":31.8,"y":0.28},{"p":"CXCR3","s":"Uterus","x":33.7,"y":0.34},{"p":"CXCR3","s":"Uterus","x":35,"y":0.48},{"p":"CXCR3","s":"Uterus","x":36.3,"y":0.61},{"p":"CXCR3","s":"Uterus","x":38.3,"y":0.59},{"p":"CXCR3","s":"Uterus","x":40.2,"y":0.53},{"p":"CXCR3","s":"Uterus","x":42.2,"y":0.57},{"p":"CXCR3","s":"Uterus","x":44.1,"y":0.52},{"p":"CXCR3","s":"Uterus","x":46,"y":0.4},{"p":"CXCR3","s":"Uterus","x":48,"y":0.3},{"p":"CXCR3","s":"Uterus","x":49.9,"y":0.22},{"p":"CXCR3","s":"Uterus","x":52.5,"y":0.15},{"p":"CXCR3","s":"Uterus","x":55.1,"y":0.07},{"p":"CXCR3","s":"Uterus","x":57.7,"y":0.05},{"p":"CXCR3","s":"Uterus","x":60.3,"y":0.06},{"p":"CXCR3","s":"Uterus","x":62.9,"y":0.03},{"p":"CXCR3","s":"Uterus","x":66.8,"y":0},{"p":"CXCR3","s":"Uterus","x":100,"y":0},

        {"p":"CXCR3","s":"Blood","x":0.2,"y":0},{"p":"CXCR3","s":"Blood","x":0.2,"y":0.96},{"p":"CXCR3","s":"Blood","x":1.3,"y":0.96},{"p":"CXCR3","s":"Blood","x":1.6,"y":0.03},{"p":"CXCR3","s":"Blood","x":4.5,"y":0.01},{"p":"CXCR3","s":"Blood","x":7.1,"y":0.05},{"p":"CXCR3","s":"Blood","x":9.7,"y":0.07},{"p":"CXCR3","s":"Blood","x":13,"y":0.13},{"p":"CXCR3","s":"Blood","x":16.2,"y":0.17},{"p":"CXCR3","s":"Blood","x":19.5,"y":0.19},{"p":"CXCR3","s":"Blood","x":22.7,"y":0.24},{"p":"CXCR3","s":"Blood","x":25.3,"y":0.34},{"p":"CXCR3","s":"Blood","x":27.9,"y":0.44},{"p":"CXCR3","s":"Blood","x":30.5,"y":0.55},{"p":"CXCR3","s":"Blood","x":33.1,"y":0.63},{"p":"CXCR3","s":"Blood","x":35,"y":0.75},{"p":"CXCR3","s":"Blood","x":37,"y":0.65},{"p":"CXCR3","s":"Blood","x":39.6,"y":0.67},{"p":"CXCR3","s":"Blood","x":42.2,"y":0.61},{"p":"CXCR3","s":"Blood","x":44.1,"y":0.52},{"p":"CXCR3","s":"Blood","x":46,"y":0.42},{"p":"CXCR3","s":"Blood","x":48,"y":0.46},{"p":"CXCR3","s":"Blood","x":50.6,"y":0.48},{"p":"CXCR3","s":"Blood","x":52.5,"y":0.5},{"p":"CXCR3","s":"Blood","x":54.5,"y":0.48},{"p":"CXCR3","s":"Blood","x":57.1,"y":0.46},{"p":"CXCR3","s":"Blood","x":59,"y":0.34},{"p":"CXCR3","s":"Blood","x":61.6,"y":0.42},{"p":"CXCR3","s":"Blood","x":63.6,"y":0.32},{"p":"CXCR3","s":"Blood","x":65.5,"y":0.21},{"p":"CXCR3","s":"Blood","x":68.1,"y":0.11},{"p":"CXCR3","s":"Blood","x":71.3,"y":0.03},{"p":"CXCR3","s":"Blood","x":74.6,"y":0},{"p":"CXCR3","s":"Blood","x":100,"y":0},

        {"p":"CXCR3","s":"Control","x":0.2,"y":0},{"p":"CXCR3","s":"Control","x":0.2,"y":0.94},{"p":"CXCR3","s":"Control","x":1.3,"y":0.94},{"p":"CXCR3","s":"Control","x":1.6,"y":0.085},{"p":"CXCR3","s":"Control","x":4.5,"y":0.1},{"p":"CXCR3","s":"Control","x":7.1,"y":0.14},{"p":"CXCR3","s":"Control","x":9.7,"y":0.22},{"p":"CXCR3","s":"Control","x":11.7,"y":0.28},{"p":"CXCR3","s":"Control","x":13.6,"y":0.32},{"p":"CXCR3","s":"Control","x":16.2,"y":0.38},{"p":"CXCR3","s":"Control","x":18.2,"y":0.45},{"p":"CXCR3","s":"Control","x":20.1,"y":0.59},{"p":"CXCR3","s":"Control","x":22,"y":0.59},{"p":"CXCR3","s":"Control","x":24,"y":0.61},{"p":"CXCR3","s":"Control","x":25.3,"y":0.71},{"p":"CXCR3","s":"Control","x":26.6,"y":0.72},{"p":"CXCR3","s":"Control","x":28.5,"y":0.61},{"p":"CXCR3","s":"Control","x":30.5,"y":0.53},{"p":"CXCR3","s":"Control","x":32.4,"y":0.4},{"p":"CXCR3","s":"Control","x":34.4,"y":0.22},{"p":"CXCR3","s":"Control","x":36.3,"y":0.07},{"p":"CXCR3","s":"Control","x":38.3,"y":0}
      ]},
      "facet": {"field": "p", "type": "nominal", "sort": ["CCR2","CCR4","CCR5","CCR6","CCR8","CX3CR1","CXCR2","CXCR3"], "header": {"labels": false, "title": null, "labelExpr": "''", "labelFontSize": 0, "labelPadding": 0, "titlePadding": 0}, "title": null},
      "columns": 4,
      "spacing": {"row": 56, "column": 29},
      "bounds": "flush",
      "resolve": {"axis": {"x": "independent"}},
      "spec": {
        "width": 258,
        "height": 258,
        "layer": [
          {
            "transform": [{"filter": "datum.s === 'Control'"}],
            "layer": [
              {"mark": {"type": "area"},
               "encoding": {
                 "x": {"field": "x", "type": "quantitative", "scale": {"domain": [0, 100], "nice": false, "zero": false},
                       "axis": {"orient": "bottom", "values": [0.3, 11, 45, 67.7, 90.4], "tickSize": 8, "tickColor": "#2a2a2a", "tickWidth": 1.2, "labels": false, "title": null, "domain": false, "grid": false}},
                 "y": {"field": "y", "type": "quantitative", "scale": {"domain": [0, 3]}, "axis": null, "stack": null},
                 "y2": {"datum": 0},
                 "fill": {"field": "s", "type": "nominal", "scale": {"domain": ["Blood", "Uterus", "Control"], "range": ["#fdf0e4", "#e5e6f2", "#efeff1"]}, "legend": null}
               }},
              {"mark": {"type": "line", "strokeWidth": 2.5, "strokeJoin": "round"},
               "encoding": {
                 "x": {"field": "x", "type": "quantitative", "axis": null},
                 "y": {"field": "y", "type": "quantitative", "scale": {"domain": [0, 3]}, "axis": null},
                 "order": {"value": null},
                 "stroke": {"field": "s", "type": "nominal", "scale": {"domain": ["Uterus", "Control", "Blood"], "range": ["#2f43a0", "#3a3a3a", "#ee7a2c"]},
                            "legend": {"title": null, "orient": "none", "legendX": -4, "legendY": 673, "direction": "horizontal", "columns": 2, "symbolType": "stroke", "symbolSize": 1089, "symbolStrokeWidth": 1.5, "labelFont": "Liberation Serif", "labelFontSize": 20, "labelColor": "#1a1a1a", "labelOffset": 15, "columnPadding": 107, "rowPadding": -7.5}}
               }}
            ]
          },
          {
            "transform": [{"filter": "datum.s === 'Blood'"}],
            "layer": [
              {"mark": {"type": "area"},
               "encoding": {
                 "x": {"field": "x", "type": "quantitative", "axis": null},
                 "y": {"field": "y", "type": "quantitative", "scale": {"domain": [-1, 2]}, "axis": null, "stack": null},
                 "y2": {"datum": 0},
                 "fill": {"field": "s", "type": "nominal", "legend": null}
               }},
              {"mark": {"type": "line", "strokeWidth": 2.5, "strokeJoin": "round"},
               "encoding": {
                 "x": {"field": "x", "type": "quantitative", "axis": null},
                 "y": {"field": "y", "type": "quantitative", "scale": {"domain": [-1, 2]}, "axis": null},
                 "order": {"value": null},
                 "stroke": {"field": "s", "type": "nominal"}
               }}
            ]
          },
          {
            "transform": [{"filter": "datum.s === 'Uterus'"}],
            "layer": [
              {"mark": {"type": "area"},
               "encoding": {
                 "x": {"field": "x", "type": "quantitative", "axis": null},
                 "y": {"field": "y", "type": "quantitative", "scale": {"domain": [-2, 1]}, "axis": null, "stack": null},
                 "y2": {"datum": 0},
                 "fill": {"field": "s", "type": "nominal", "legend": null}
               }},
              {"mark": {"type": "line", "strokeWidth": 2.5, "strokeJoin": "round"},
               "encoding": {
                 "x": {"field": "x", "type": "quantitative", "axis": null},
                 "y": {"field": "y", "type": "quantitative", "scale": {"domain": [-2, 1]}, "axis": null},
                 "order": {"value": null},
                 "stroke": {"field": "s", "type": "nominal"}
               }}
            ]
          },
          {
            "transform": [{"filter": "isValid(datum.gate)"}],
            "mark": {"type": "rule", "strokeWidth": 3, "color": "#1c1c1c"},
            "encoding": {
              "x": {"field": "gate", "type": "quantitative",
                    "axis": {"orient": "bottom", "values": [1.6, 2.8, 3.9, 4.8, 5.8, 6.7, 7.6, 8.7, 9.4, 13.1, 14.6, 15.9, 17.2, 18.3, 19.6, 20.9, 22.3, 29.1, 33.1, 36, 38.2, 40, 41.5, 42.8, 44, 51.8, 55.8, 58.7, 60.9, 62.7, 64.2, 65.5, 66.7, 74.5, 78.5, 81.4, 83.6, 85.4, 86.9, 88.2, 89.4, 97.2], "tickSize": 4, "tickColor": "#2a2a2a", "tickWidth": 1, "labels": false, "title": null, "domain": false, "grid": false}}
            }
          },
          {
            "transform": [{"filter": "isValid(datum.gate)"}],
            "mark": {"type": "text", "align": "right", "baseline": "middle", "font": "Liberation Serif", "fontSize": 19, "color": "#1a1a1a"},
            "encoding": {
              "x": {"datum": 94.5, "type": "quantitative", "axis": null},
              "y": {"datum": 2.22, "type": "quantitative", "scale": {"domain": [0, 3]}, "axis": null},
              "text": {"field": "ut"}
            }
          },
          {
            "transform": [{"filter": "isValid(datum.gate)"}],
            "mark": {"type": "text", "align": "right", "baseline": "middle", "font": "Liberation Serif", "fontSize": 19, "color": "#1a1a1a"},
            "encoding": {
              "x": {"datum": 94.5, "type": "quantitative", "axis": null},
              "y": {"datum": 1.22, "type": "quantitative", "scale": {"domain": [0, 3]}, "axis": null},
              "text": {"field": "bl"}
            }
          },
          {
            "transform": [{"filter": "isValid(datum.gate)"}],
            "mark": {"type": "text", "align": "left", "baseline": "middle", "font": "Liberation Serif", "fontSize": 20, "color": "#1a1a1a", "clip": false},
            "encoding": {
              "x": {"datum": 0, "type": "quantitative", "axis": null},
              "y": {"datum": -0.31, "type": "quantitative", "scale": {"domain": [0, 3]}, "axis": null},
              "text": {"field": "p"}
            }
          },
          {
            "transform": [{"filter": "isValid(datum.gate)"}],
            "mark": {"type": "rule", "strokeWidth": 1.5, "color": "#1a1a1a", "clip": false},
            "encoding": {
              "x": {"datum": 30, "type": "quantitative", "axis": null},
              "x2": {"datum": 97},
              "y": {"datum": -0.31, "type": "quantitative", "scale": {"domain": [0, 3]}, "axis": null}
            }
          },
          {
            "transform": [{"filter": "isValid(datum.gate)"}],
            "mark": {"type": "point", "shape": "triangle-right", "filled": true, "size": 100, "color": "#1a1a1a", "opacity": 1, "clip": false},
            "encoding": {
              "x": {"datum": 97.4, "type": "quantitative", "axis": null},
              "y": {"datum": -0.31, "type": "quantitative", "scale": {"domain": [0, 3]}, "axis": null}
            }
          }
        ],
        "resolve": {"scale": {"y": "independent"}, "axis": {"x": "independent", "y": "independent"}}
      }
    }
  ],
  "center": true,
  "spacing": 22,
  "config": {
    "view": {"stroke": "#2a2a2a", "strokeWidth": 1.2},
    "font": "Liberation Serif",
    "axis": {"grid": false},
    "header": {"labels": false, "title": null, "labelFontSize": 0, "labelPadding": 0, "titlePadding": 0},
    "legend": {
      "labelFont": "Liberation Serif",
      "labelFontSize": 20,
      "labelColor": "#1a1a1a",
      "symbolType": "stroke",
      "symbolStrokeWidth": 1.5
    }
  }
}
